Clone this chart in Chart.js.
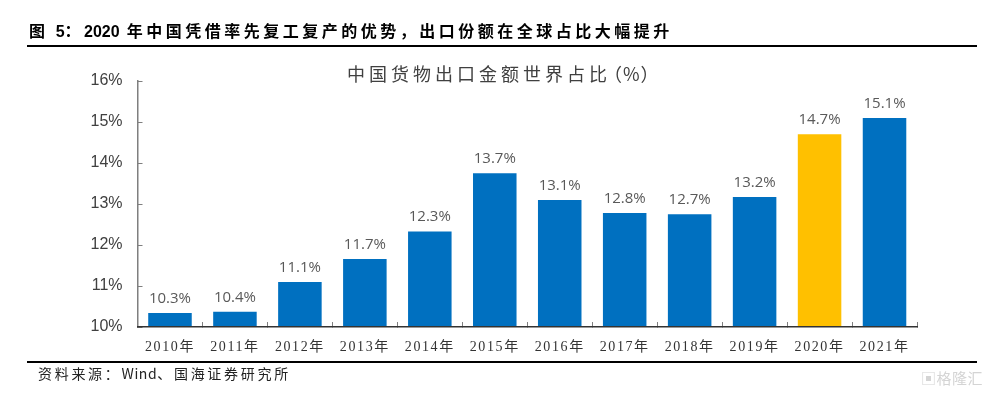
<!DOCTYPE html>
<html lang="zh-CN">
<head>
<meta charset="utf-8">
<script src="https://cdn.jsdelivr.net/npm/chart.js@4"></script>
<style>
    html, body { margin: 0; padding: 0; background: #fff; }
    #wrap { position: relative; width: 999px; height: 394px; overflow: hidden; }
    canvas { position: absolute; left: 0; top: 0; }
    .txt { position: absolute; white-space: nowrap; font-family: "Noto Sans CJK SC", sans-serif; }
    .rule { position: absolute; left: 27px; width: 950px; height: 1.5px; background: #000; }
    #head { left: 29px; top: 19px; font-size: 16px; line-height: 22px; font-weight: 700; letter-spacing: 3.5px; color: #000; }
    #head b { font-family: "Liberation Sans", sans-serif; letter-spacing: 0; }
    #title { left: 347px; top: 60px; font-size: 18px; line-height: 26px; letter-spacing: 4px; color: #404040; }
    #title span { margin-left: -7px; letter-spacing: 1px; }
    #source { left: 38px; top: 363px; font-size: 14px; line-height: 20px; letter-spacing: 2.7px; color: #222; }
    #source span { letter-spacing: 0.6px; }
    #mark { left: 921px; top: 368px; font-size: 15px; line-height: 20px; letter-spacing: 0.5px; color: #d4d4d4; }
</style>
</head>
<body>
<div id="wrap">
    <canvas id="shareChart" width="999" height="394"></canvas>
    <div class="txt" id="head">图 <b>5</b>&#xFF1A;<b>2020</b> 年中国凭借率先复工复产的优势&#xFF0C;出口份额在全球占比大幅提升</div>
    <div class="rule" style="top: 45px"></div>
    <div class="txt" id="title">中国货物出口金额世界占比<span>&#xFF08;%&#xFF09;</span></div>
    <div class="rule" style="top: 361px"></div>
    <div class="txt" id="source">资料来源&#xFF1A;<span>Wind</span>、国海证券研究所</div>
    <div class="txt" id="mark">▣格隆汇</div>
</div>
<script>
const categories = ['2010年', '2011年', '2012年', '2013年', '2014年', '2015年', '2016年', '2017年', '2018年', '2019年', '2020年', '2021年'];
const shareValues = [10.34, 10.37, 11.1, 11.66, 12.33, 13.75, 13.1, 12.78, 12.75, 13.17, 14.7, 15.1];
const shareLabels = ['10.3%', '10.4%', '11.1%', '11.7%', '12.3%', '13.7%', '13.1%', '12.8%', '12.7%', '13.2%', '14.7%', '15.1%'];
const barColors = ['#0070C0', '#0070C0', '#0070C0', '#0070C0', '#0070C0', '#0070C0', '#0070C0', '#0070C0', '#0070C0', '#0070C0', '#FFC000', '#0070C0'];

// Nhãn giá trị phía trên mỗi cột
const barLabels = {
    id: 'barLabels',
    afterDatasetsDraw(chart) {
        const ctx = chart.ctx;
        ctx.save();
        ctx.font = '15px "Open Sans", sans-serif';
        ctx.fillStyle = '#595959';
        ctx.textAlign = 'center';
        ctx.textBaseline = 'bottom';
        chart.getDatasetMeta(0).data.forEach((bar, i) => {
            ctx.fillText(shareLabels[i], bar.x, bar.y - 7);
        });
        ctx.restore();
    }
};

// Giãn chữ cho nhãn trục x
const spacedXTicks = {
    id: 'spacedXTicks',
    beforeDraw(chart) {
        const scale = chart.scales.x;
        if (scale.spaced) return;
        const drawLabels = scale.drawLabels;
        scale.drawLabels = function (area) {
            chart.ctx.letterSpacing = '1.6px';
            drawLabels.call(this, area);
            chart.ctx.letterSpacing = '0px';
        };
        scale.spaced = true;
    }
};

new Chart(document.getElementById('shareChart').getContext('2d'), {
    type: 'bar',
    data: {
        labels: categories,
        datasets: [{
            data: shareValues,
            backgroundColor: barColors,
            categoryPercentage: 1,
            barPercentage: 0.67
        }]
    },
    options: {
        responsive: false,
        animation: false,
        layout: { padding: { left: 0, right: 82, top: 81, bottom: 0 } },
        plugins: {
            legend: { display: false },
            title: { display: false },
            tooltip: { enabled: false }
        },
        scales: {
            x: {
                offset: true,
                afterFit: (scale) => { scale.height = 67; },
                grid: { drawOnChartArea: false, tickLength: -5, color: '#7f7f7f' },
                border: { color: '#333333', width: 1.5, z: 1 },
                ticks: {
                    color: '#333333',
                    padding: 17,
                    maxRotation: 0,
                    font: { family: '"Liberation Serif", "Noto Sans CJK SC", serif', size: 14 }
                }
            },
            y: {
                min: 10,
                max: 16,
                afterFit: (scale) => { scale.width = 137.5; },
                grid: { drawOnChartArea: false, tickLength: -5, color: '#7f7f7f' },
                border: { color: '#7f7f7f', width: 1.5 },
                ticks: {
                    stepSize: 1,
                    color: '#404040',
                    padding: 20,
                    callback: (value) => value + '%',
                    font: { family: '"Liberation Sans", sans-serif', size: 16 }
                }
            }
        }
    },
    plugins: [barLabels, spacedXTicks]
});
</script>
</body>
</html>
